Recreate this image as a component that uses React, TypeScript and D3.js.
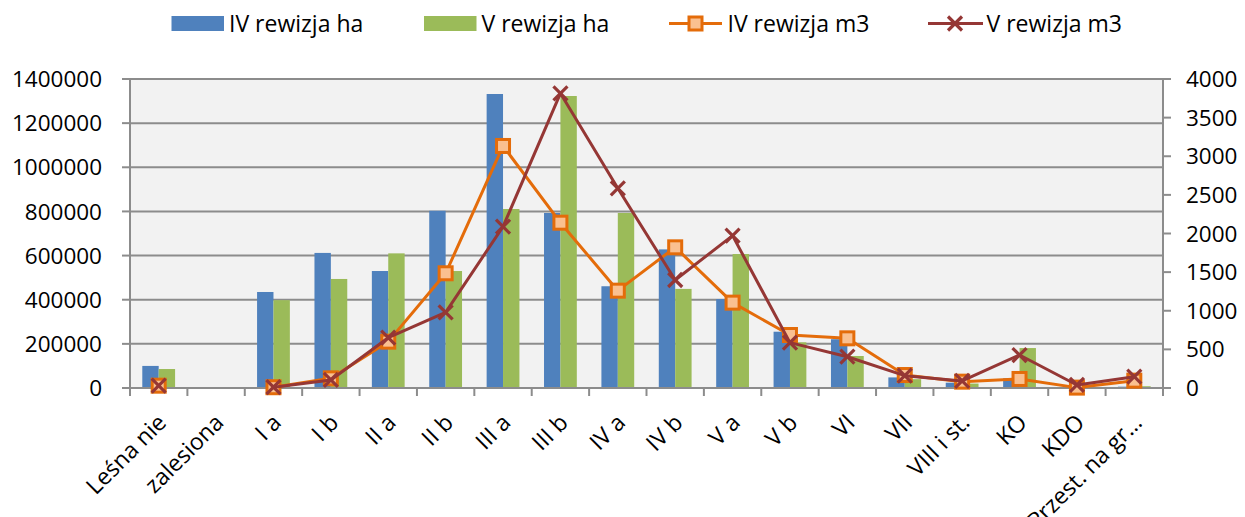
import React from 'react';
import * as d3 from 'd3';

const categories = ["Leśna nie", "zalesiona", "I a", "I b", "II a", "II b", "III a", "III b", "IV a", "IV b", "V a", "V b", "VI", "VII", "VIII i st.", "KO", "KDO", "Przest. na gr…"];
const ivHa: (number | null)[] = [100000, null, 435000, 612000, 530000, 803000, 1332000, 793000, 461000, 628000, 403000, 255000, 221000, 48000, 24000, 44000, 3000, 6000];
const vHa: (number | null)[] = [86000, null, 398000, 494000, 610000, 530000, 811000, 1323000, 793000, 449000, 607000, 207000, 145000, 40000, 20000, 181000, 3000, 8000];
const ivM3: (number | null)[] = [30, null, 10, 125, 600, 1485, 3133, 2140, 1260, 1821, 1105, 686, 643, 168, 82, 117, 5, 95];
const vM3: (number | null)[] = [30, null, 10, 104, 651, 980, 2088, 3815, 2585, 1398, 1972, 587, 405, 160, 91, 427, 39, 146];
const leftTicks = [0, 200000, 400000, 600000, 800000, 1000000, 1200000, 1400000];
const rightTicks = [0, 500, 1000, 1500, 2000, 2500, 3000, 3500, 4000];
const seriesNames = ["IV rewizja ha", "V rewizja ha", "IV rewizja m3", "V rewizja m3"];

const W = 1245, H = 517;
const PL = 130, PR = 1163, PT = 79, PB = 388;
const BLUE = '#4f81bd', GREEN = '#9bbb59', ORANGE = '#e46c0a', ORANGE_FILL = '#fac090', RED = '#953735';
const GRID = '#8c8c8c';
const FONT = "'Open Sans', sans-serif";

function SquareMarker({ x, y }: { x: number; y: number }) {
  const s = 13;
  return <rect x={x - s / 2} y={y - s / 2} width={s} height={s} fill={ORANGE_FILL} stroke={ORANGE} strokeWidth={3} />;
}
function XMarker({ x, y }: { x: number; y: number }) {
  const s = 7;
  return (
    <g stroke={RED} strokeWidth={3.2}>
      <line x1={x - s} y1={y - s} x2={x + s} y2={y + s} />
      <line x1={x - s} y1={y + s} x2={x + s} y2={y - s} />
    </g>
  );
}

export default function App() {
  const x = d3.scaleBand<string>().domain(categories).range([PL, PR]).paddingInner(0).paddingOuter(0);
  const yL = d3.scaleLinear().domain([0, 1400000]).range([PB, PT]);
  const yR = d3.scaleLinear().domain([0, 4000]).range([PB, PT]);
  const bw = x.bandwidth();
  const barW = bw / 3.5;
  const cx = (c: string) => (x(c) as number) + bw / 2;

  const line = d3.line<number | null>()
    .defined(d => d !== null)
    .x((_, i) => cx(categories[i]))
    .y(d => yR(d as number));

  const legendItems = [
    { kind: 'bar', color: BLUE, x0: 171.5, name: seriesNames[0] },
    { kind: 'bar', color: GREEN, x0: 424, name: seriesNames[1] },
    { kind: 'sq', color: ORANGE, x0: 669, name: seriesNames[2] },
    { kind: 'x', color: RED, x0: 928, name: seriesNames[3] },
  ];
  const ly = 23.5;

  return (
    <svg width={W} height={H} style={{ position: 'absolute', left: 0, top: 0, background: '#fff' }} fontFamily={FONT}>
      <rect x={PL} y={PT} width={PR - PL} height={PB - PT} fill="#f2f2f2" />
      {leftTicks.map(t => (
        <line key={'g' + t} x1={PL} x2={PR} y1={yL(t)} y2={yL(t)} stroke={GRID} strokeWidth={2} />
      ))}
      {categories.map((c, i) => (
        <g key={'b' + c}>
          {ivHa[i] !== null && (
            <rect x={cx(c) - barW} y={yL(ivHa[i] as number)} width={barW} height={PB - yL(ivHa[i] as number)} fill={BLUE} />
          )}
          {vHa[i] !== null && (
            <rect x={cx(c)} y={yL(vHa[i] as number)} width={barW} height={PB - yL(vHa[i] as number)} fill={GREEN} />
          )}
        </g>
      ))}
      <line x1={PL} x2={PL} y1={PT} y2={PB} stroke={GRID} strokeWidth={2} />
      <line x1={PR} x2={PR} y1={PT} y2={PB} stroke={GRID} strokeWidth={2} />
      <line x1={PL} x2={PR} y1={PB} y2={PB} stroke={GRID} strokeWidth={2} />
      {leftTicks.map(t => (
        <g key={'lt' + t}>
          <line x1={PL - 8} x2={PL} y1={yL(t)} y2={yL(t)} stroke={GRID} strokeWidth={2} />
          <text x={102} y={yL(t)} dy="0.36em" textAnchor="end" fontSize={22.5} fill="#000">{t}</text>
        </g>
      ))}
      {rightTicks.map(t => (
        <g key={'rt' + t}>
          <line x1={PR} x2={PR + 8} y1={yR(t)} y2={yR(t)} stroke={GRID} strokeWidth={2} />
          <text x={1186} y={yR(t)} dy="0.36em" textAnchor="start" fontSize={22.5} fill="#000">{t}</text>
        </g>
      ))}
      {categories.map((c, i) => (
        <line key={'xt' + i} x1={x(c) as number} x2={x(c) as number} y1={PB} y2={PB + 8} stroke={GRID} strokeWidth={2} />
      ))}
      <line x1={PR} x2={PR} y1={PB} y2={PB + 8} stroke={GRID} strokeWidth={2} />
      {categories.map(c => (
        <text key={'xl' + c} transform={`translate(${cx(c) + 9},${424}) rotate(-45)`} textAnchor="end" fontSize={23} fill="#000">{c}</text>
      ))}
      <path d={line(ivM3) || ''} fill="none" stroke={ORANGE} strokeWidth={3} strokeLinejoin="round" />
      {ivM3.map((v, i) => v !== null && <SquareMarker key={'sm' + i} x={cx(categories[i])} y={yR(v)} />)}
      <path d={line(vM3) || ''} fill="none" stroke={RED} strokeWidth={3} strokeLinejoin="round" />
      {vM3.map((v, i) => v !== null && <XMarker key={'xm' + i} x={cx(categories[i])} y={yR(v)} />)}
      {legendItems.map(it => (
        <g key={it.name}>
          {it.kind === 'bar' && <rect x={it.x0} y={16} width={52.5} height={15} fill={it.color} />}
          {it.kind === 'sq' && (
            <g>
              <line x1={it.x0} x2={it.x0 + 53} y1={ly} y2={ly} stroke={ORANGE} strokeWidth={3} />
              <SquareMarker x={it.x0 + 26.5} y={ly} />
            </g>
          )}
          {it.kind === 'x' && (
            <g>
              <line x1={it.x0} x2={it.x0 + 55} y1={ly} y2={ly} stroke={RED} strokeWidth={3} />
              <XMarker x={it.x0 + 27} y={ly} />
            </g>
          )}
          <text x={it.x0 + (it.kind === 'bar' ? 57.5 : 58.5)} y={ly} dy="0.36em" fontSize={23} fill="#000">{it.name}</text>
        </g>
      ))}
    </svg>
  );
}
